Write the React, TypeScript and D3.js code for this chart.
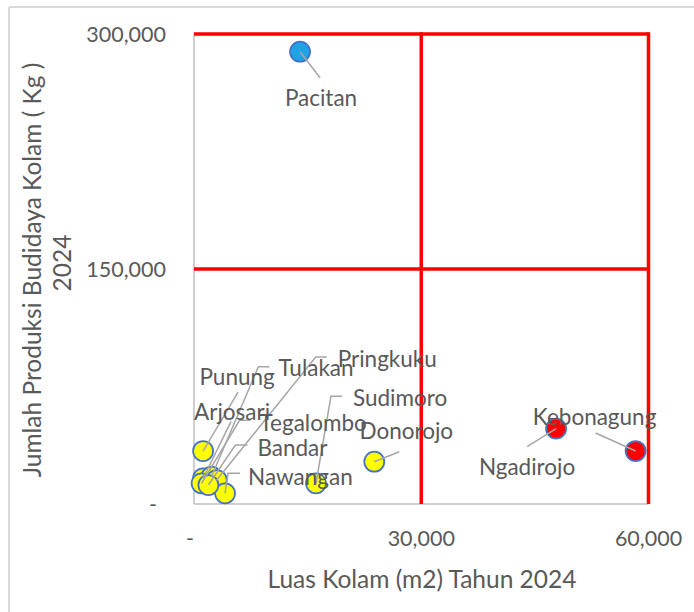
import React from "react";
import * as d3 from "d3";

// ---- data ----
const names = [
  "Pacitan", "Kebonagung", "Ngadirojo", "Donorojo", "Sudimoro",
  "Punung", "Arjosari", "Tulakan", "Pringkuku", "Tegalombo", "Nawangan", "Bandar",
];
const luasKolam = [14000, 58300, 47800, 23800, 16100, 1200, 1200, 2300, 3000, 1000, 4100, 1900];
const produksi = [288700, 33800, 48100, 27000, 13200, 33800, 16400, 17400, 15300, 13200, 6800, 12100];
const kategori = ["blue", "red", "red", "yellow", "yellow", "yellow", "yellow", "yellow", "yellow", "yellow", "yellow", "yellow"];
const xTicks = [0, 30000, 60000];
const yTicks = [0, 150000, 300000];
const xTitle = "Luas Kolam (m2) Tahun 2024";
const yTitleLines = ["Jumlah Produksi Budidaya Kolam ( Kg )", "2024"];

// ---- layout (label offsets relative to point, in px) ----
type Lab = { dx: number; dy: number; anchor: "start" | "middle"; leader: [number, number][] };
const labelLayout: Record<string, Lab> = {
  Pacitan: { dx: 21, dy: 46, anchor: "middle", leader: [[20, 26]] },
  Kebonagung: { dx: -41, dy: -35, anchor: "middle", leader: [[-40, -18]] },
  Ngadirojo: { dx: -29, dy: 38, anchor: "middle", leader: [[-29, 18]] },
  Donorojo: { dx: 32, dy: -31, anchor: "middle", leader: [[25, -10]] },
  Sudimoro: { dx: 37, dy: -86, anchor: "start", leader: [[15, -87], [26, -87]] },
  Punung: { dx: 34, dy: -75, anchor: "middle", leader: [[35, -59]] },
  Arjosari: { dx: 29, dy: -67, anchor: "middle", leader: [[28, -57]] },
  Tulakan: { dx: 67, dy: -109, anchor: "start", leader: [[47, -110], [58, -110]] },
  Pringkuku: { dx: 121, dy: -122, anchor: "start", leader: [[99, -123], [110, -123]] },
  Tegalombo: { dx: 58, dy: -61, anchor: "start", leader: [[38, -63], [49, -63]] },
  Nawangan: { dx: 23, dy: -17, anchor: "start", leader: [[3, -20], [15, -20]] },
  Bandar: { dx: 49, dy: -38, anchor: "start", leader: [[27, -40], [39, -40]] },
};

const fills: Record<string, string> = { blue: "#1FA2E6", red: "#FF0000", yellow: "#FFFF00" };
const FONT = "Lato, 'Noto Sans', sans-serif";
const TXT = "#595959";
const LABEL_SIZE = 22.5;
const TICK_SIZE = 21.5;
const TITLE_SIZE = 24.5;

export default function App() {
  const x = d3.scaleLinear().domain([0, 60000]).range([194, 648.5]);
  const y = d3.scaleLinear().domain([0, 300000]).range([504, 34]);
  const fmt = (v: number) => (v === 0 ? "-" : d3.format(",")(v));
  const pts = names.map((n, i) => ({ n, px: x(luasKolam[i]), py: y(produksi[i]), c: kategori[i] }));

  return (
    <svg width={694} height={612} style={{ position: "absolute", left: 0, top: 0 }} fontFamily={FONT}>
      <rect x={0} y={0} width={694} height={612} fill="#fff" />
      {/* chart border (top & left visible) */}
      <line x1={9} y1={7} x2={694} y2={7} stroke="#D9D9D9" strokeWidth={2} />
      <line x1={9} y1={7} x2={9} y2={612} stroke="#D9D9D9" strokeWidth={2} />

      {/* axes */}
      <line x1={x(0)} y1={y(0)} x2={x(60000)} y2={y(0)} stroke="#BFBFBF" strokeWidth={1.5} />
      <line x1={x(0)} y1={y(0)} x2={x(0)} y2={y(300000)} stroke="#BFBFBF" strokeWidth={1.5} />

      {/* red gridlines */}
      {yTicks.filter((t) => t > 0).map((t) => (
        <line key={"gy" + t} x1={x(0)} x2={x(60000)} y1={y(t)} y2={y(t)} stroke="#FF0000" strokeWidth={3.5} />
      ))}
      {xTicks.filter((t) => t > 0).map((t) => (
        <line key={"gx" + t} x1={x(t)} x2={x(t)} y1={y(0)} y2={y(300000) - 1.75} stroke="#FF0000" strokeWidth={3.5} />
      ))}

      {/* tick labels */}
      {yTicks.map((t) => (
        <text key={"ty" + t} x={t === 0 ? 157 : 166} y={y(t)} textAnchor="end" dominantBaseline="central" fontSize={TICK_SIZE} fill={TXT}>
          {fmt(t)}
        </text>
      ))}
      {xTicks.map((t) => (
        <text key={"tx" + t} x={t === 0 ? x(t) - 4 : x(t)} y={538} textAnchor="middle" dominantBaseline="central" fontSize={TICK_SIZE} fill={TXT}>
          {fmt(t)}
        </text>
      ))}

      {/* axis titles */}
      <text x={422} y={578} textAnchor="middle" dominantBaseline="central" fontSize={TITLE_SIZE} fill={TXT}>
        {xTitle}
      </text>
      <text transform="translate(41,270) rotate(-90)" textAnchor="middle" fontSize={TITLE_SIZE} fill={TXT}>
        {yTitleLines[0]}
      </text>
      <text transform="translate(71,263) rotate(-90)" textAnchor="middle" fontSize={TITLE_SIZE} fill={TXT}>
        {yTitleLines[1]}
      </text>

      {/* points */}
      {pts.map((p) => (
        <circle key={"c" + p.n} cx={p.px} cy={p.py} r={10} fill={fills[p.c]} stroke="#4472C4" strokeWidth={1.75} />
      ))}

      {/* leader lines */}
      {pts.map((p) => {
        const L = labelLayout[p.n];
        const path = d3.line()([[p.px, p.py], ...L.leader.map(([a, b]) => [p.px + a, p.py + b] as [number, number])]);
        return <path key={"l" + p.n} d={path || ""} fill="none" stroke="#A6A6A6" strokeWidth={1.5} />;
      })}

      {/* labels */}
      {pts.map((p) => {
        const L = labelLayout[p.n];
        return (
          <text key={"t" + p.n} x={p.px + L.dx} y={p.py + L.dy} textAnchor={L.anchor} dominantBaseline="central" fontSize={LABEL_SIZE} fill={TXT}>
            {p.n}
          </text>
        );
      })}
    </svg>
  );
}
